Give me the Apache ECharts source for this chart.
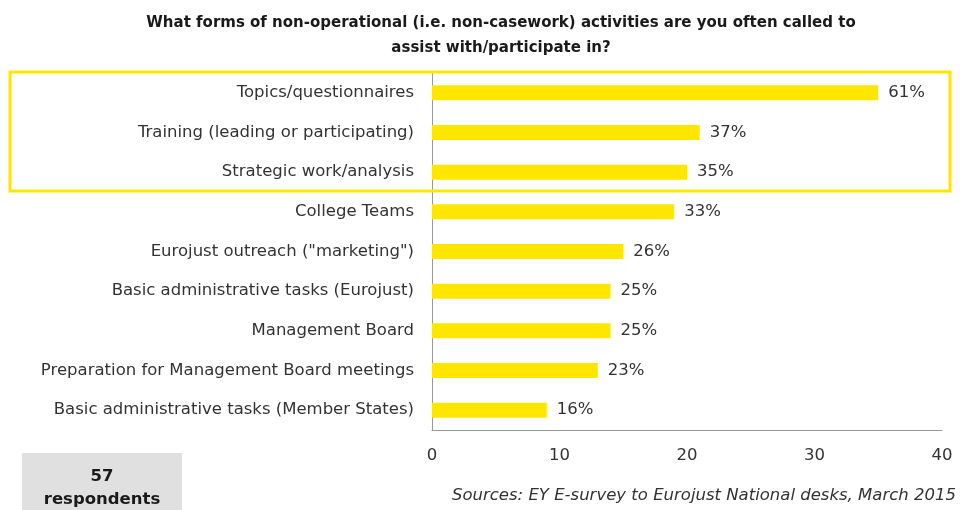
<!DOCTYPE html>
<html>
<head>
<meta charset="utf-8">
<script src="https://cdn.jsdelivr.net/npm/echarts@6/dist/echarts.min.js"></script>
<style>
  html, body { margin: 0; padding: 0; background: #fff; }
  #chart { width: 960px; height: 510px; }
</style>
</head>
<body>
<div id="chart"></div>
<script>
// categories, bottom to top (as ECharts draws a category y axis)
const categories = [
  'Basic administrative tasks (Member States)',
  'Preparation for Management Board meetings',
  'Management Board',
  'Basic administrative tasks (Eurojust)',
  'Eurojust outreach ("marketing")',
  'College Teams',
  'Strategic work/analysis',
  'Training (leading or participating)',
  'Topics/questionnaires'
]
// number of respondents
const counts = [9, 13, 14, 14, 15, 19, 20, 21, 35]
// share of respondents shown next to each bar
const shares = ['16%', '23%', '25%', '25%', '26%', '33%', '35%', '37%', '61%']

const xTicks = [0, 10, 20, 30, 40]

const font = '"DejaVu Sans", sans-serif'

const chart = echarts.init(document.getElementById('chart'))

const option = {
  animation: false,
  title: {
    text: 'What forms of non-operational (i.e. non-casework) activities are you often called to\nassist with/participate in?',
    left: 496,
    top: 6,
    textAlign: 'center',
    textStyle: {
      fontFamily: font,
      fontSize: 15,
      fontWeight: 'bold',
      color: '#1a1a1a',
      lineHeight: 25
    }
  },
  grid: {
    left: 432,
    right: 18,
    top: 73,
    bottom: 80
  },
  xAxis: {
    type: 'value',
    min: xTicks[0],
    max: xTicks[xTicks.length - 1],
    interval: 10,
    splitLine: { show: false },
    axisLine: { show: true, lineStyle: { color: '#999', width: 1 } },
    axisTick: { show: false },
    axisLabel: {
      fontFamily: font,
      fontSize: 16.5,
      color: '#333',
      margin: 17
    }
  },
  yAxis: {
    type: 'category',
    data: categories,
    axisLine: { show: true, lineStyle: { color: '#999', width: 1 } },
    axisTick: { show: false },
    axisLabel: {
      fontFamily: font,
      fontSize: 16.5,
      color: '#333',
      margin: 18
    }
  },
  series: [
    {
      type: 'bar',
      data: counts,
      barWidth: 15,
      itemStyle: { color: '#FFE600' },
      label: {
        show: true,
        position: 'right',
        distance: 10,
        fontFamily: font,
        fontSize: 16.5,
        color: '#333',
        formatter: p => shares[p.dataIndex]
      }
    }
  ],
  graphic: [
    {
      type: 'rect',
      shape: { x: 10, y: 72, width: 940, height: 119 },
      style: { fill: 'none', stroke: '#FFE600', lineWidth: 3 },
      z: 100
    },
    {
      type: 'rect',
      shape: { x: 22, y: 453, width: 160, height: 60 },
      style: { fill: '#e0e0e0' }
    },
    {
      type: 'text',
      x: 102,
      y: 465,
      style: {
        text: '57\nrespondents',
        align: 'center',
        fontFamily: font,
        fontSize: 16.5,
        fontWeight: 'bold',
        lineHeight: 23,
        fill: '#1a1a1a'
      }
    },
    {
      type: 'text',
      right: 4,
      top: 487,
      style: {
        text: 'Sources: EY E-survey to Eurojust National desks, March 2015',
        fontFamily: font,
        fontSize: 16.5,
        fontStyle: 'italic',
        fill: '#333'
      }
    }
  ]
}

chart.setOption(option)
</script>
</body>
</html>
